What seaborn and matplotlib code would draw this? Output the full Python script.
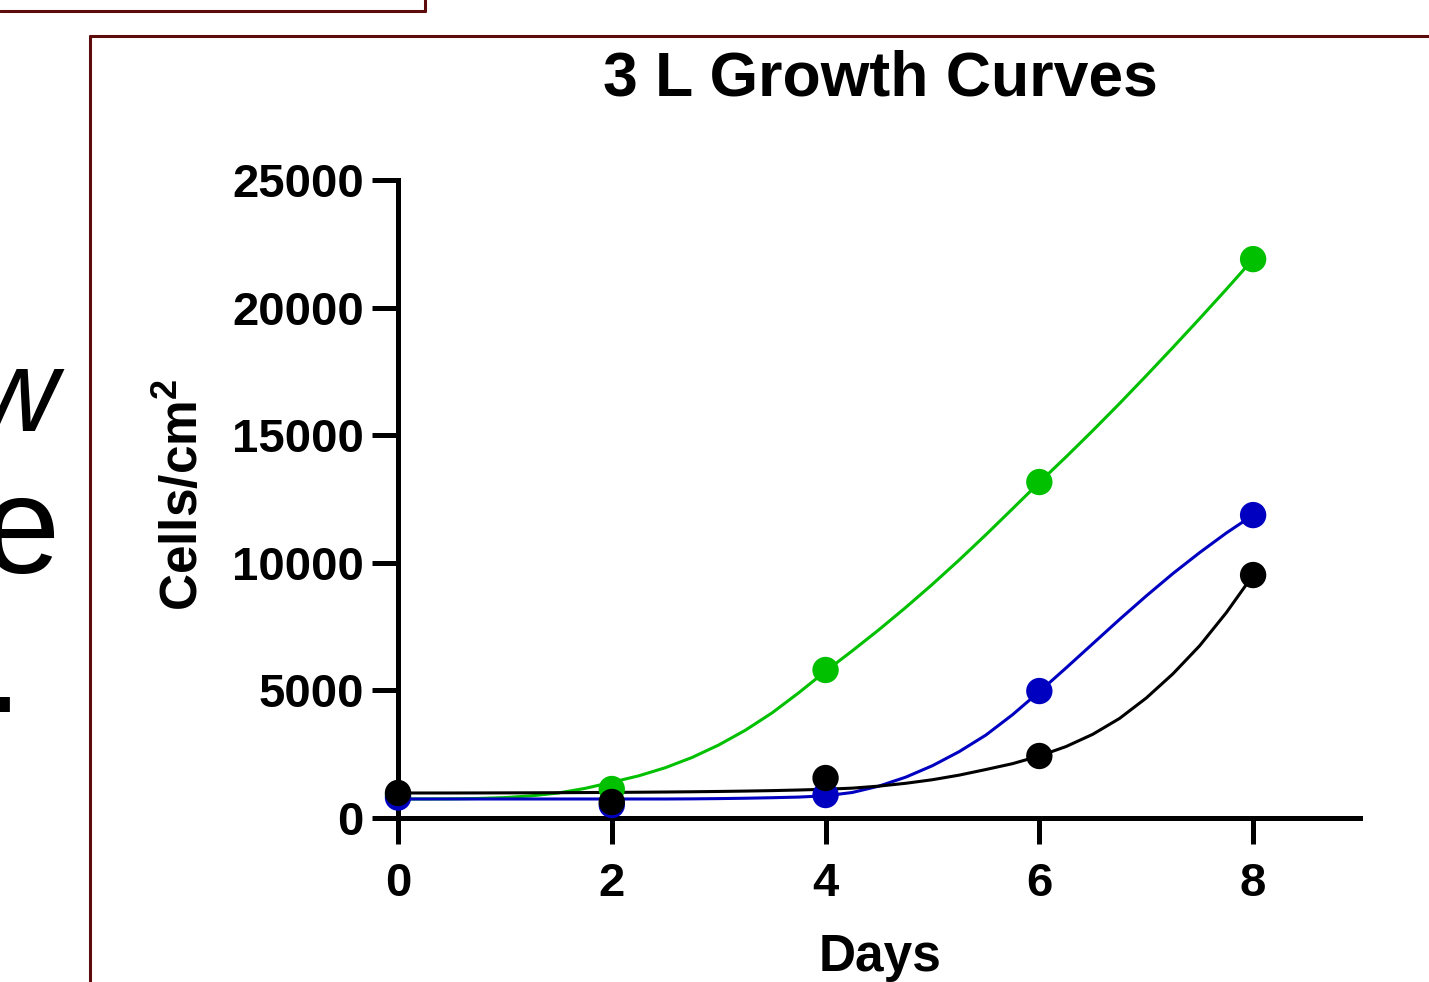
import matplotlib
matplotlib.use('Agg')
import matplotlib.pyplot as plt
import seaborn as sns
import numpy as np
import pandas as pd
from matplotlib.lines import Line2D

# measured means (cells/cm2) for the three series
days = [0, 2, 4, 6, 8]
green_pts = [900, 1136, 5800, 13165, 21900]
blue_pts = [800, 510, 900, 4975, 11870]
black_pts = [980, 627, 1567, 2430, 9520]

# fitted curves, every 0.25 day
curve_days = np.linspace(0, 8, 33)
green_fit = [745, 745, 750, 765, 800, 870, 980, 1160, 1400, 1650, 1970, 2370,
             2860, 3440, 4120, 4910, 5750, 6550, 7380, 8250, 9160, 10110, 11100,
             12120, 13150, 14150, 15180, 16240, 17330, 18440, 19570, 20720, 21900]
blue_fit = [745, 745, 745, 745, 745, 745, 745, 745, 745, 745, 745, 750,
            760, 775, 795, 820, 870, 1000, 1250, 1600, 2050, 2600, 3250,
            4050, 4950, 5880, 6830, 7780, 8700, 9580, 10400, 11170, 11870]
black_fit = [980, 980, 980, 982, 985, 988, 992, 997, 1003, 1010, 1018, 1028,
             1040, 1055, 1073, 1097, 1127, 1170, 1250, 1360, 1500, 1680, 1900,
             2130, 2430, 2800, 3280, 3900, 4700, 5650, 6750, 8050, 9520]

series = ['green', 'blue', 'black']
colors = {'green': '#00c000', 'blue': '#0000c0', 'black': '#000000'}

curves = pd.DataFrame({
    'day': np.concatenate([curve_days] * 3),
    'cells': green_fit + blue_fit + black_fit,
    'series': np.repeat(series, len(curve_days)),
})
points = pd.DataFrame({
    'day': days * 3,
    'cells': green_pts + blue_pts + black_pts,
    'series': np.repeat(series, len(days)),
})

sns.set_style('ticks')
plt.rcParams['font.family'] = ['Liberation Sans', 'DejaVu Sans']
plt.rcParams['font.weight'] = 'bold'
plt.rcParams['text.color'] = 'black'
plt.rcParams['axes.labelcolor'] = 'black'
plt.rcParams['axes.edgecolor'] = 'black'
plt.rcParams['xtick.color'] = 'black'
plt.rcParams['ytick.color'] = 'black'
plt.rcParams['mathtext.fontset'] = 'custom'
plt.rcParams['mathtext.rm'] = 'Liberation Sans:bold'
plt.rcParams['mathtext.bf'] = 'Liberation Sans:bold'
plt.rcParams['mathtext.default'] = 'bf'

fig = plt.figure(figsize=(14.29, 9.82), dpi=100)
ax = fig.add_axes([398 / 1429, 1 - 818 / 982, 962 / 1429, 638 / 982])

sns.lineplot(data=curves, x='day', y='cells', hue='series', palette=colors,
             linewidth=2.2, legend=False, ax=ax, zorder=2)
for i, s in enumerate(series):
    sub = points[points['series'] == s]
    sns.scatterplot(data=sub, x='day', y='cells', color=colors[s], s=360,
                    edgecolor='none', legend=False, ax=ax, zorder=3 + i,
                    clip_on=False)

ax.set_xlim(0, 9)
ax.set_ylim(0, 25000)
ax.set_xticks([0, 2, 4, 6, 8])
ax.set_yticks([0, 5000, 10000, 15000, 20000, 25000])
ax.set_xlabel('')
ax.set_ylabel('')
sns.despine(ax=ax)
for sp in ['left', 'bottom']:
    ax.spines[sp].set_linewidth(3.6)
    ax.spines[sp].set_color('black')
ax.tick_params(axis='both', direction='out', length=18.5, width=3.6,
               labelsize=34, color='black', labelcolor='black')
ax.tick_params(axis='x', pad=13)
ax.tick_params(axis='y', pad=6)
for lab in ax.get_xticklabels() + ax.get_yticklabels():
    lab.set_fontweight('bold')

fig.text(880 / 1429, 1 - 95 / 982, '3 L Growth Curves', ha='center',
         va='baseline', fontsize=45, fontweight='bold')
fig.text(880 / 1429, 1 - 971 / 982, 'Days', ha='center', va='baseline',
         fontsize=37, fontweight='bold')
fig.text(184 / 1429, 1 - 495 / 982, 'Cells/cm$^{2}$', ha='center',
         va='center', rotation=90, fontsize=37, fontweight='bold')

# fragments of slide text cut by the crop
fig.text(57 / 1429, 1 - 431 / 982, 'w', ha='right', va='baseline',
         fontsize=84, fontweight='normal', style='italic')
fig.text(59 / 1429, 1 - 573 / 982, 'e', ha='right', va='baseline',
         fontsize=100, fontweight='normal')
fig.text(22 / 1429, 1 - 712 / 982, '.', ha='right', va='baseline',
         fontsize=100, fontweight='normal')

# slide boxes
box_color = '#5e0b0b'
fig.add_artist(Line2D([0, 425 / 1429], [1 - 11 / 982] * 2, color=box_color, lw=2.2))
fig.add_artist(Line2D([425 / 1429] * 2, [1, 1 - 11 / 982], color=box_color, lw=2.2))
fig.add_artist(Line2D([90 / 1429, 1], [1 - 36 / 982] * 2, color=box_color, lw=2.2))
fig.add_artist(Line2D([90 / 1429] * 2, [0, 1 - 36 / 982], color=box_color, lw=2.2))

fig.savefig('out.png', dpi=100)
